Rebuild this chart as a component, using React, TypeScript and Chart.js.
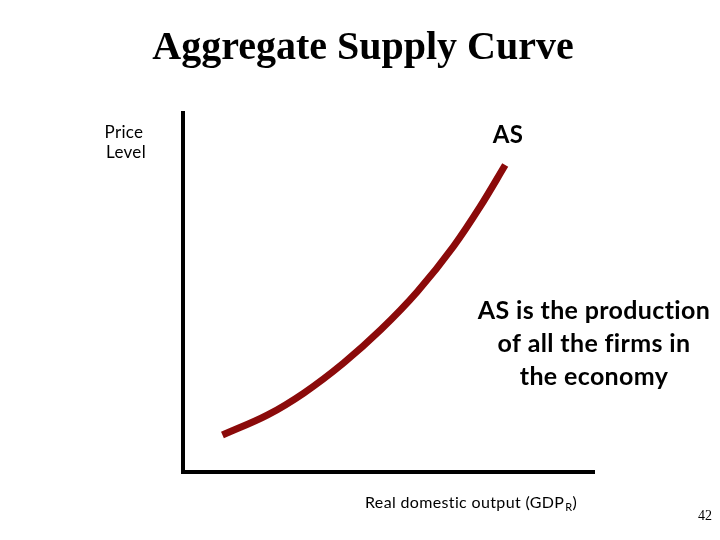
import React, { useEffect, useRef } from "react";
import { Chart, registerables } from "chart.js";

Chart.register(...registerables);

// Aggregate supply curve (output vs price level, in index units 0..100)
const outputValues = [9.6, 20.6, 29.4, 39.1, 48.1, 57.0, 65.8, 72.3, 78.4];
const priceValues = [10.3, 15.9, 22.0, 30.4, 39.6, 50.2, 62.8, 73.9, 85.5];

const titleText = "Aggregate Supply Curve";
const yAxisLabel = ["Price", "Level"];
const xAxisLabel = "Real domestic output (GDP";
const xAxisSub = "R";
const curveLabel = "AS";
const noteLines = ["AS is the production", "of all the firms in", "the economy"];
const pageNumber = "42";

const sans = "Lato, 'Open Sans', sans-serif";
const serif = "'Liberation Serif', 'Times New Roman', serif";

const textPlugin = {
  id: "slideText",
  afterDraw(chart: any) {
    const ctx = chart.ctx as any;
    ctx.save();
    ctx.fillStyle = "#000";
    ctx.textBaseline = "alphabetic";

    ctx.textAlign = "center";
    ctx.font = `bold 40px ${serif}`;
    ctx.fillText(titleText, 363, 59);

    ctx.letterSpacing = "0.3px";
    ctx.font = `17px ${sans}`;
    ctx.fillText(yAxisLabel[0], 124, 138);
    ctx.fillText(yAxisLabel[1], 126, 158);

    ctx.font = `bold 24px ${sans}`;
    ctx.fillText(curveLabel, 508, 143);

    ctx.letterSpacing = "0.35px";
    ctx.font = `bold 25px ${sans}`;
    noteLines.forEach((l: string, i: number) => ctx.fillText(l, 594, 319 + i * 33));

    ctx.textAlign = "left";
    ctx.font = `16px ${sans}`;
    ctx.fillText(xAxisLabel, 365, 508);
    const w = ctx.measureText(xAxisLabel).width;
    ctx.font = `11px ${sans}`;
    ctx.fillText(xAxisSub, 366 + w, 511);
    const w2 = ctx.measureText(xAxisSub).width;
    ctx.font = `16px ${sans}`;
    ctx.fillText(")", 366 + w + w2, 508);

    ctx.letterSpacing = "0px";
    ctx.textAlign = "center";
    ctx.font = `14px ${serif}`;
    ctx.fillText(pageNumber, 705, 520);
    ctx.restore();
  },
};

export default function App() {
  const ref = useRef<HTMLCanvasElement | null>(null);
  useEffect(() => {
    if (!ref.current) return;
    const chart = new Chart(ref.current, {
      type: "line",
      data: {
        datasets: [
          {
            label: curveLabel,
            data: outputValues.map((x, i) => ({ x, y: priceValues[i] })),
            borderColor: "#8b0a0a",
            borderWidth: 7,
            pointRadius: 0,
            tension: 0.4,
            cubicInterpolationMode: "monotone",
            fill: false,
          },
        ],
      },
      options: {
        responsive: false,
        animation: false,
        layout: { padding: { left: 183, right: 126, top: 113, bottom: 68 } },
        plugins: { legend: { display: false }, tooltip: { enabled: false }, title: { display: false } },
        scales: {
          x: {
            type: "linear",
            min: 0,
            max: 100,
            grid: { display: false, drawTicks: false },
            ticks: { display: false },
            border: { display: true, color: "#000", width: 4 },
          },
          y: {
            type: "linear",
            min: 0,
            max: 100,
            grid: { display: false, drawTicks: false },
            ticks: { display: false },
            border: { display: true, color: "#000", width: 4 },
          },
        },
      },
      plugins: [textPlugin],
    });
    return () => chart.destroy();
  }, []);
  return (
    <div style={{ position: "fixed", left: 0, top: 0, width: 720, height: 540, background: "#fff" }}>
      <canvas ref={ref} width={720} height={540} style={{ width: 720, height: 540 }} />
    </div>
  );
}
